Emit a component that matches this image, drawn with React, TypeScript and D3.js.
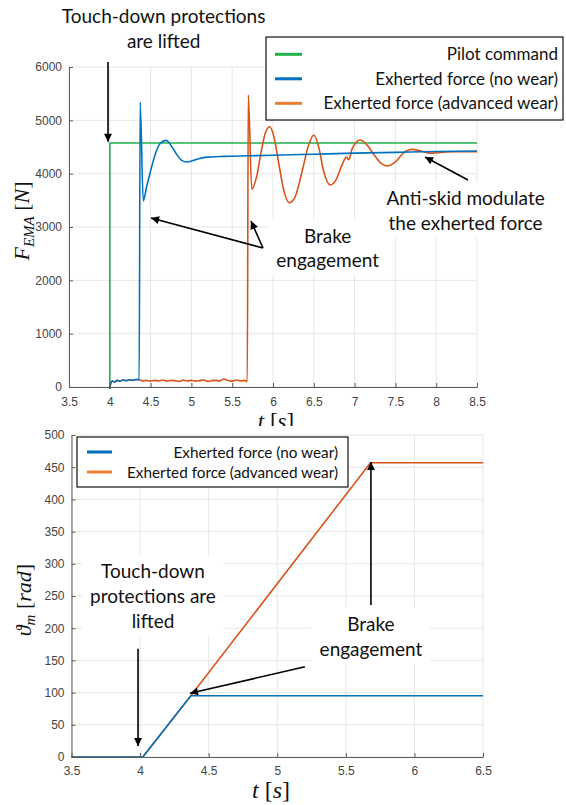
import React, { useEffect, useRef } from 'react';
import * as d3 from 'd3';

type Pt = [number, number];

// ---------- top panel: EMA force [N] vs time [s] ----------
const forceTimeTicks = [3.5, 4, 4.5, 5, 5.5, 6, 6.5, 7, 7.5, 8, 8.5];
const forceTicks = [0, 1000, 2000, 3000, 4000, 5000, 6000];

const pilotCommand: Pt[] = [[4.0, -40], [4.0, 4575], [8.5, 4575]];

// small preload before the brake engages (shared by both cases)
const preload: Pt[] = [
  [4.0, -30], [4.01, 60], [4.03, 110], [4.06, 95], [4.09, 125], [4.12, 110],
  [4.16, 130], [4.2, 120], [4.24, 135], [4.28, 125], [4.32, 140], [4.36, 135],
];

const forceNoWear: Pt[] = [
  ...preload,
  [4.372, 5340], [4.41, 3490], [4.45, 3750], [4.5, 4050], [4.56, 4380], [4.62, 4570],
  [4.69, 4625], [4.75, 4530], [4.82, 4360], [4.88, 4250], [4.95, 4220], [5.02, 4245],
  [5.1, 4285], [5.2, 4310], [5.4, 4325], [5.7, 4335], [6.0, 4345], [6.5, 4365],
  [7.0, 4385], [7.5, 4400], [8.0, 4415], [8.5, 4425],
];

const forceWear: Pt[] = [
  ...preload,
  [4.4, 115], [4.45, 125], [4.5, 110], [4.55, 125], [4.6, 115], [4.65, 130], [4.7, 110],
  [4.75, 125], [4.8, 120], [4.85, 105], [4.9, 130], [4.95, 115], [5.0, 125], [5.05, 110],
  [5.1, 120], [5.15, 130], [5.2, 105], [5.25, 120], [5.3, 125], [5.35, 115], [5.4, 150],
  [5.45, 120], [5.5, 110], [5.55, 130], [5.6, 115], [5.65, 125], [5.685, 100],
  [5.697, 5475], [5.74, 3710], [5.8, 3950], [5.86, 4450], [5.91, 4780], [5.96, 4880],
  [6.01, 4700], [6.07, 4200], [6.13, 3700], [6.2, 3455], [6.27, 3560], [6.35, 4000],
  [6.43, 4500], [6.5, 4725], [6.56, 4500], [6.62, 4050], [6.7, 3790], [6.77, 3880],
  [6.85, 4180], [6.9, 4310], [6.93, 4260], [6.97, 4470], [7.07, 4630], [7.15, 4540],
  [7.25, 4330], [7.33, 4190], [7.41, 4145], [7.5, 4220], [7.6, 4390], [7.7, 4455],
  [7.8, 4430], [7.9, 4390], [7.96, 4385], [8.05, 4400], [8.2, 4410], [8.5, 4410],
];

const topLegend = ['Pilot command', 'Exherted force (no wear)', 'Exherted force (advanced wear)'];

// ---------- bottom panel: motor angle [rad] vs time [s] ----------
const angleTimeTicks = [3.5, 4, 4.5, 5, 5.5, 6, 6.5];
const angleTicks = [0, 50, 100, 150, 200, 250, 300, 350, 400, 450, 500];

const angleNoWear: Pt[] = [[3.5, 0], [4.02, 0], [4.37, 95], [6.5, 95]];
const angleWear: Pt[] = [[3.5, 0], [4.02, 0], [4.37, 95], [5.68, 457], [6.5, 457]];

const bottomLegend = ['Exherted force (no wear)', 'Exherted force (advanced wear)'];

// colours
const GREEN = '#22b04a';
const BLUE = '#0072bd';
const ORANGE = '#d95319';
const LEG_BLUE = '#0070c0';
const LEG_ORANGE = '#ed7d31';

const NOTE_FONT = 'Lato, "Open Sans", sans-serif';
const TICK_FONT = '"Liberation Sans", Arial, sans-serif';
const MATH_FONT = '"Liberation Serif", "DejaVu Serif", serif';

interface Note { lines: string[]; t: number; v: number[]; box: boolean }
interface Arrow { from: Pt; to: Pt }

const topNotes: Note[] = [
  { lines: ['Touch-down protections', 'are lifted'], t: 4.66, v: [6825, 6356], box: false },
  { lines: ['Brake', 'engagement'], t: 6.67, v: [2700, 2250], box: true },
  { lines: ['Anti-skid modulate', 'the exherted force'], t: 8.36, v: [3413, 2944], box: true },
];
const topArrows: Arrow[] = [
  { from: [3.978, 6094], to: [3.978, 4600] },
  { from: [5.877, 2606], to: [4.505, 3169] },
  { from: [5.877, 2606], to: [5.73, 3113] },
  { from: [8.39, 3881], to: [7.863, 4313] },
];

const bottomNotes: Note[] = [
  { lines: ['Touch-down', 'protections are', 'lifted'], t: 4.094, v: [278, 239, 200], box: true },
  { lines: ['Brake', 'engagement'], t: 5.683, v: [196, 157], box: true },
];
const bottomArrows: Arrow[] = [
  { from: [3.985, 168], to: [3.985, 17] },
  { from: [5.683, 236], to: [5.683, 458] },
  { from: [5.202, 140], to: [4.364, 99] },
];

type Sel = d3.Selection<SVGGElement, unknown, null, undefined>;
type Lin = d3.ScaleLinear<number, number>;

function drawGrid(g: Sel, x: Lin, y: Lin, xt: number[], yt: number[]) {
  const [x0, x1] = x.range();
  const [y0, y1] = y.range();
  g.selectAll('line.gx').data(xt).enter().append('line')
    .attr('x1', d => x(d)).attr('x2', d => x(d)).attr('y1', y0).attr('y2', y1)
    .attr('stroke', '#e6e6e6').attr('stroke-width', 1);
  g.selectAll('line.gy').data(yt).enter().append('line')
    .attr('x1', x0).attr('x2', x1).attr('y1', d => y(d)).attr('y2', d => y(d))
    .attr('stroke', '#e6e6e6').attr('stroke-width', 1);
}

function drawAxes(g: Sel, x: Lin, y: Lin, xt: number[], yt: number[], xPad: number) {
  const fmt = (d: d3.NumberValue) => String(d);
  const xa = g.append('g').attr('transform', `translate(0,${y.range()[0]})`)
    .call(d3.axisBottom(x).tickValues(xt).tickFormat(fmt).tickSizeInner(-4).tickSizeOuter(0).tickPadding(xPad));
  const ya = g.append('g').attr('transform', `translate(${x.range()[0]},0)`)
    .call(d3.axisLeft(y).tickValues(yt).tickFormat(fmt).tickSizeInner(-4).tickSizeOuter(0).tickPadding(7));
  [xa, ya].forEach(a => {
    a.attr('font-family', TICK_FONT).attr('font-size', 12);
    a.selectAll('path,line').attr('stroke', '#5a5a5a');
    a.selectAll('text').attr('fill', '#444');
  });
}

function drawNotes(g: Sel, notes: Note[], x: Lin, y: Lin, size: number) {
  notes.forEach(n => {
    const grp = g.append('g');
    const txt = grp.append('text')
      .attr('text-anchor', 'middle')
      .attr('font-family', NOTE_FONT)
      .attr('font-size', size)
      .attr('fill', '#111');
    n.lines.forEach((line, i) => {
      txt.append('tspan').attr('x', x(n.t)).attr('y', y(n.v[i])).text(line);
    });
    if (n.box) {
      const bb = (txt.node() as SVGTextElement).getBBox();
      grp.insert('rect', 'text')
        .attr('x', bb.x - 8).attr('y', bb.y - 4)
        .attr('width', bb.width + 16).attr('height', bb.height + 8)
        .attr('fill', '#fff');
    }
  });
}

function drawArrows(g: Sel, arrows: Arrow[], x: Lin, y: Lin) {
  g.selectAll('line.arrow').data(arrows).enter().append('line')
    .attr('x1', d => x(d.from[0])).attr('y1', d => y(d.from[1]))
    .attr('x2', d => x(d.to[0])).attr('y2', d => y(d.to[1]))
    .attr('stroke', '#000').attr('stroke-width', 1.6)
    .attr('marker-end', 'url(#arrowHead)');
}

function drawSeries(g: Sel, data: Pt[], x: Lin, y: Lin, color: string, curve: d3.CurveFactory) {
  const line = d3.line<Pt>().x(d => x(d[0])).y(d => y(d[1])).curve(curve);
  g.append('path').datum(data).attr('d', line)
    .attr('fill', 'none').attr('stroke', color).attr('stroke-width', 1.6)
    .attr('stroke-linejoin', 'round');
}

function drawLegend(
  g: Sel, labels: string[], colors: string[],
  box: [number, number, number, number], firstRow: number, gap: number,
  lineX: [number, number], textEnd: number, size: number,
) {
  g.append('rect')
    .attr('x', box[0]).attr('y', box[1])
    .attr('width', box[2] - box[0]).attr('height', box[3] - box[1])
    .attr('fill', '#fff').attr('stroke', '#111').attr('stroke-width', 1.2);
  labels.forEach((label, i) => {
    const ry = box[1] + firstRow + i * gap;
    g.append('line').attr('x1', lineX[0]).attr('x2', lineX[1]).attr('y1', ry).attr('y2', ry)
      .attr('stroke', colors[i]).attr('stroke-width', 3);
    g.append('text').attr('x', textEnd).attr('y', ry + size * 0.36)
      .attr('text-anchor', 'end').attr('font-family', NOTE_FONT).attr('font-size', size)
      .attr('fill', '#111').text(label);
  });
}

const App: React.FC = () => {
  const d3Container = useRef<SVGSVGElement | null>(null);

  useEffect(() => {
    if (!d3Container.current) return;
    const svg = d3.select(d3Container.current);
    svg.selectAll('*').remove();

    svg.append('defs').append('marker')
      .attr('id', 'arrowHead').attr('viewBox', '0 0 10 10')
      .attr('refX', 10).attr('refY', 5)
      .attr('markerWidth', 10).attr('markerHeight', 8)
      .attr('markerUnits', 'userSpaceOnUse').attr('orient', 'auto')
      .append('path').attr('d', 'M0,0 L10,5 L0,10 z').attr('fill', '#000');

    const root = svg.append('g') as unknown as Sel;

    // ===== top panel =====
    const xTop = d3.scaleLinear().domain([3.5, 8.5]).range([69, 477]);
    const yTop = d3.scaleLinear().domain([0, 6000]).range([387, 67]);
    const top = root.append('g');
    drawGrid(top, xTop, yTop, forceTimeTicks, forceTicks);
    drawNotes(top, topNotes, xTop, yTop, 19);
    drawSeries(top, pilotCommand, xTop, yTop, GREEN, d3.curveLinear);
    drawSeries(top, forceWear, xTop, yTop, ORANGE, d3.curveMonotoneX);
    drawSeries(top, forceNoWear, xTop, yTop, BLUE, d3.curveMonotoneX);
    drawAxes(top, xTop, yTop, forceTimeTicks, forceTicks, 10);
    drawArrows(top, topArrows, xTop, yTop);
    drawLegend(top, topLegend, [GREEN, LEG_BLUE, LEG_ORANGE], [266, 37, 563, 120], 17.3, 24.5,
      [275, 302], 558, 17);

    const fLabel = top.append('text')
      .attr('transform', 'translate(29,221) rotate(-90)')
      .attr('text-anchor', 'middle').attr('font-family', MATH_FONT).attr('font-size', 22).attr('fill', '#111');
    fLabel.append('tspan').attr('font-style', 'italic').text('F');
    fLabel.append('tspan').attr('font-style', 'italic').attr('font-size', 15).attr('dy', 5).text('EMA');
    fLabel.append('tspan').attr('dy', -5).text(' [');
    fLabel.append('tspan').attr('font-style', 'italic').text('N');
    fLabel.append('tspan').text(']');

    const tTop = top.append('text')
      .attr('x', 276).attr('y', 429)
      .attr('text-anchor', 'middle').attr('font-family', MATH_FONT).attr('font-size', 23).attr('fill', '#111');
    tTop.append('tspan').attr('font-style', 'italic').text('t');
    tTop.append('tspan').text(' [');
    tTop.append('tspan').attr('font-style', 'italic').text('s');
    tTop.append('tspan').text(']');

    // ===== bottom panel (covers the foot of the upper label) =====
    const bottom = root.append('g');
    bottom.append('rect').attr('x', 0).attr('y', 426).attr('width', 566).attr('height', 379).attr('fill', '#fff');
    const xBot = d3.scaleLinear().domain([3.5, 6.5]).range([71.5, 483]);
    const yBot = d3.scaleLinear().domain([0, 500]).range([757, 435]);
    drawGrid(bottom, xBot, yBot, angleTimeTicks, angleTicks);
    drawNotes(bottom, bottomNotes, xBot, yBot, 19);
    drawSeries(bottom, angleWear, xBot, yBot, ORANGE, d3.curveLinear);
    drawSeries(bottom, angleNoWear, xBot, yBot, BLUE, d3.curveLinear);
    drawAxes(bottom, xBot, yBot, angleTimeTicks, angleTicks, 9);
    drawArrows(bottom, bottomArrows, xBot, yBot);
    drawLegend(bottom, bottomLegend, [LEG_BLUE, LEG_ORANGE], [77, 437, 348, 487], 15, 20,
      [87, 112], 338, 15.3);

    const thLabel = bottom.append('text')
      .attr('transform', 'translate(31,600) rotate(-90)')
      .attr('text-anchor', 'middle').attr('font-family', MATH_FONT).attr('font-size', 22).attr('fill', '#111');
    thLabel.append('tspan').attr('font-style', 'italic').text('\u03D1');
    thLabel.append('tspan').attr('font-style', 'italic').attr('font-size', 15).attr('dy', 4).text('m');
    thLabel.append('tspan').attr('dy', -4).text(' [');
    thLabel.append('tspan').attr('font-style', 'italic').text('rad');
    thLabel.append('tspan').text(']');

    const tBot = bottom.append('text')
      .attr('x', 271).attr('y', 798)
      .attr('text-anchor', 'middle').attr('font-family', MATH_FONT).attr('font-size', 24).attr('fill', '#111');
    tBot.append('tspan').attr('font-style', 'italic').text('t');
    tBot.append('tspan').text(' [');
    tBot.append('tspan').attr('font-style', 'italic').text('s');
    tBot.append('tspan').text(']');
  }, []);

  return (
    <div style={{ position: 'absolute', left: 0, top: 0 }}>
      <svg ref={d3Container} width={566} height={805} style={{ display: 'block', background: '#fff' }}></svg>
    </div>
  );
};

export default App;
